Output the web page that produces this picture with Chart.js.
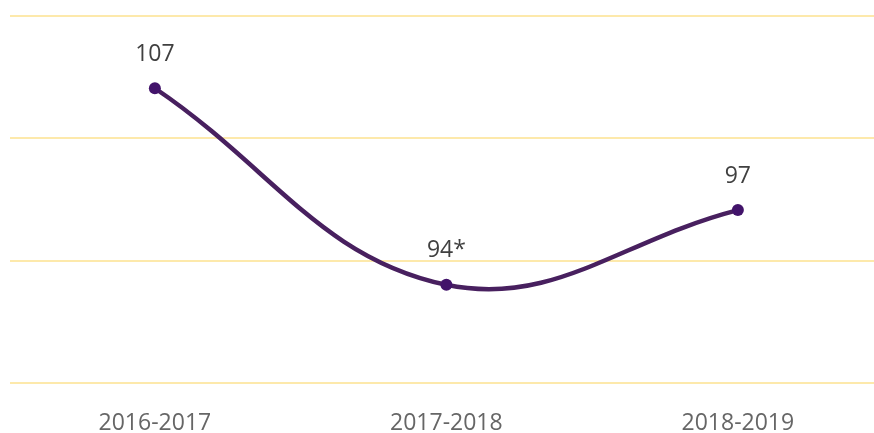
<!DOCTYPE html>
<html>
<head>
    <title>Line chart</title>
    <script src="https://cdn.jsdelivr.net/npm/chart.js"></script>
    <style>
        body { margin: 0; background: #fff; }
        .chart-container { position: relative; width: 874px; height: 433px; }
    </style>
</head>
<body>
    <div class="chart-container">
        <canvas id="chartContainer"></canvas>
    </div>

    <script>
        // categories and values
        const periods = ['2016-2017', '2017-2018', '2018-2019'];
        // heights the points sit at on the (hidden) y axis
        const plotted = [104.1, 88.05, 94.15];
        // text shown above each point
        const pointLabels = ['107', '94*', '97'];

        // draws the value text above each point
        const valueLabels = {
            id: 'valueLabels',
            afterDatasetsDraw(chart) {
                const ctx = chart.ctx;
                const meta = chart.getDatasetMeta(0);
                ctx.save();
                ctx.font = '23px "Open Sans"';
                ctx.fillStyle = '#404040';
                ctx.textAlign = 'center';
                ctx.textBaseline = 'middle';
                meta.data.forEach((pt, i) => {
                    ctx.fillText(pointLabels[i], pt.x, pt.y - 34);
                });
                ctx.restore();
            }
        };

        const ctx = document.getElementById('chartContainer').getContext('2d');
        new Chart(ctx, {
            type: 'line',
            data: {
                datasets: [{
                    data: plotted.map((v, i) => ({ x: i, y: v })),
                    borderColor: '#48205f',
                    backgroundColor: '#42136a',
                    borderWidth: 4.5,
                    pointRadius: 6,
                    pointBorderWidth: 0,
                    tension: 0.4,
                    fill: false,
                }]
            },
            options: {
                responsive: true,
                maintainAspectRatio: false,
                animation: false,
                layout: { autoPadding: false, padding: { top: 16, left: 10, right: 0, bottom: -22 } },
                plugins: {
                    legend: { display: false },
                    tooltip: { enabled: false }
                },
                scales: {
                    x: {
                        type: 'linear',
                        min: -0.497,
                        max: 2.467,
                        afterBuildTicks: (axis) => {
                            axis.ticks = periods.map((p, i) => ({ value: i }));
                        },
                        afterFit: (axis) => {
                            axis.paddingLeft = 0;
                            axis.paddingRight = 0;
                        },
                        ticks: {
                            callback: (v) => periods[v],
                            color: '#666666',
                            font: { family: '"Open Sans"', size: 23 },
                            padding: 18,
                            maxRotation: 0,
                        },
                        grid: { display: false },
                        border: { display: false }
                    },
                    y: {
                        min: 80,
                        max: 110,
                        ticks: { display: false, stepSize: 10 },
                        grid: { color: '#fde9ab', lineWidth: 2, drawTicks: false },
                        border: { display: false }
                    }
                }
            },
            plugins: [valueLabels]
        });
    </script>
</body>
</html>
